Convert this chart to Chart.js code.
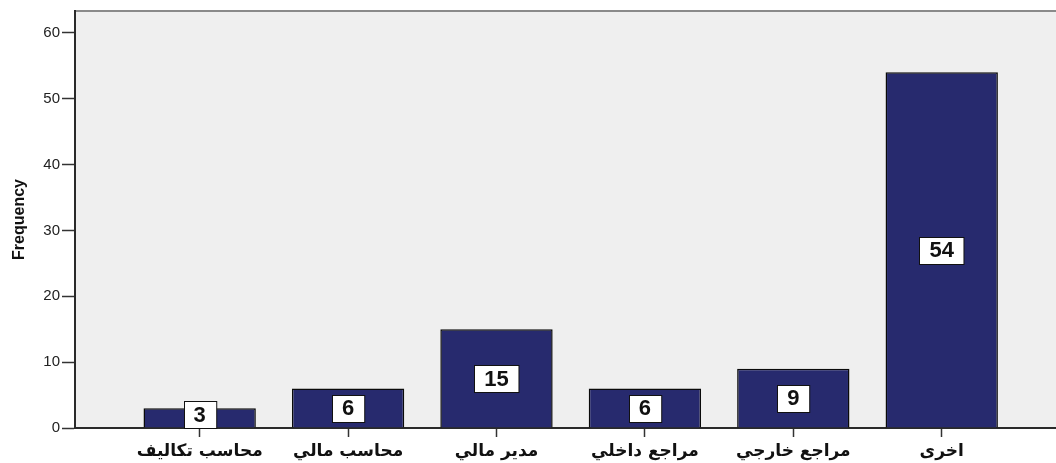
<!DOCTYPE html>
<html>
<head>
<meta charset="utf-8">
<script src="https://cdn.jsdelivr.net/npm/chart.js@4"></script>
<style>
  html, body { margin: 0; padding: 0; background: #ffffff; }
  #wrap { width: 1056px; height: 463px; }
</style>
</head>
<body>
<div id="wrap"><canvas id="myChart" width="1056" height="463"></canvas></div>
<script>
let labels = ['محاسب تكاليف', 'محاسب مالي', 'مدير مالي', 'مراجع داخلي', 'مراجع خارجي', 'اخرى'];
let counts = [3, 6, 15, 6, 9, 54];
let yTicks = [0, 10, 20, 30, 40, 50, 60];

// gray plot background + top frame line
let plotBack = {
    id: 'plotBack',
    beforeDraw(chart) {
        let c = chart.ctx, a = chart.chartArea;
        c.save();
        c.fillStyle = '#efefef';
        c.fillRect(a.left, a.top, a.right - a.left, a.bottom - a.top);
        c.strokeStyle = '#8a8a8a';
        c.lineWidth = 2;
        c.beginPath();
        c.moveTo(a.left, a.top);
        c.lineTo(a.right, a.top);
        c.stroke();
        c.restore();
    }
};

// white boxed value labels in the middle of each bar
let boxLabels = {
    id: 'boxLabels',
    afterDatasetsDraw(chart) {
        let c = chart.ctx;
        let meta = chart.getDatasetMeta(0);
        let yScale = chart.scales.y;
        c.save();
        c.font = 'bold 22px "Liberation Sans", Arial, sans-serif';
        c.textAlign = 'center';
        c.textBaseline = 'middle';
        meta.data.forEach((bar, i) => {
            let v = counts[i];
            let txt = String(v);
            let w = c.measureText(txt).width + 20;
            let h = 27;
            let cy = yScale.getPixelForValue(v / 2);
            if (cy + h / 2 > yScale.bottom) cy = yScale.bottom - h / 2;
            let x0 = Math.round(bar.x - w / 2) + 0.5;
            let y0 = Math.round(cy - h / 2) + 0.5;
            c.fillStyle = '#ffffff';
            c.fillRect(x0, y0, w, h);
            c.strokeStyle = '#111111';
            c.lineWidth = 1;
            c.strokeRect(x0, y0, w, h);
            c.fillStyle = '#111111';
            c.fillText(txt, bar.x, cy + 1);
        });
        c.restore();
    }
};

let ctx = document.getElementById('myChart').getContext('2d');

let chart = new Chart(ctx, {
    type: 'bar',
    data: {
        datasets: [{
            data: counts.map((v, i) => ({ x: i, y: v })),
            backgroundColor: '#272a6e',
            borderColor: '#0a0a0a',
            borderWidth: 1.5,
            barPercentage: 0.757,
            categoryPercentage: 1
        }]
    },
    options: {
        responsive: false,
        animation: false,
        layout: { padding: { top: 8, right: 0, left: 0, bottom: 0 } },
        plugins: {
            legend: { display: false },
            tooltip: { enabled: false }
        },
        scales: {
            x: {
                type: 'linear',
                offset: false,
                min: -0.84,
                max: 5.77,
                afterBuildTicks: (scale) => { scale.ticks = labels.map((l, i) => ({ value: i })); },
                afterFit: (scale) => { scale.height = 35; },
                grid: { offset: false, drawOnChartArea: false, drawTicks: true, tickLength: 9, tickColor: '#333333', tickWidth: 1.5 },
                border: { color: '#2a2a2a', width: 2 },
                ticks: {
                    autoSkip: false,
                    maxRotation: 0,
                    padding: 4,
                    color: '#111111',
                    font: { family: '"DejaVu Sans", sans-serif', size: 17, weight: 'bold' },
                    callback: (v) => labels[v]
                }
            },
            y: {
                min: 0,
                max: 63.3,
                afterBuildTicks: (scale) => { scale.ticks = yTicks.map(v => ({ value: v })); },
                afterFit: (scale) => { scale.width = 75; },
                grid: { drawOnChartArea: false, drawTicks: true, tickLength: 13, tickColor: '#333333', tickWidth: 1.5 },
                border: { color: '#2a2a2a', width: 2 },
                ticks: {
                    padding: 2,
                    color: '#222222',
                    font: { family: '"Liberation Sans", Arial, sans-serif', size: 15 }
                },
                title: {
                    display: true,
                    text: 'Frequency',
                    color: '#111111',
                    padding: { top: 10, bottom: 0 },
                    font: { family: '"Liberation Sans Narrow", "Liberation Sans", sans-serif', size: 16, weight: 'bold' }
                }
            }
        }
    },
    plugins: [plotBack, boxLabels]
});
</script>
</body>
</html>
